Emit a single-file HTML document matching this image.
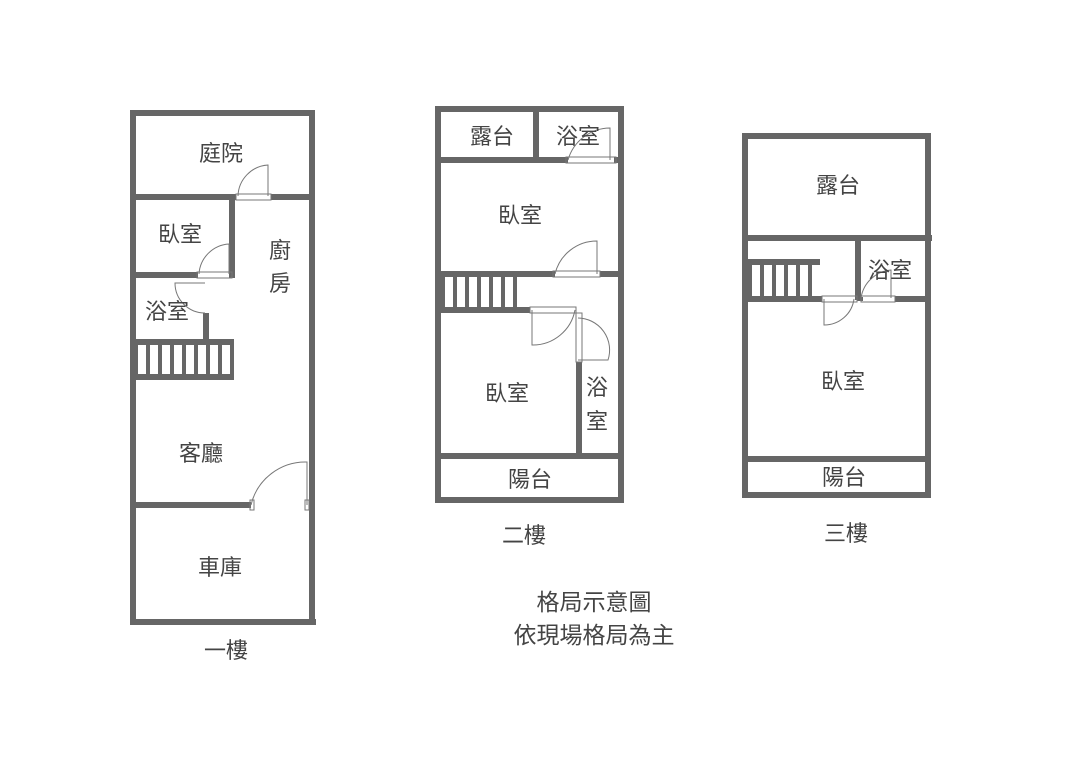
<!DOCTYPE html>
<html><head><meta charset="utf-8"><style>
html,body{margin:0;padding:0;background:#fff;width:1076px;height:776px;overflow:hidden}
text{font-family:"Liberation Sans","Noto Sans CJK TC",sans-serif;font-size:22px;fill:#444;text-anchor:middle}
text.b{font-size:23px}
</style></head><body>
<svg width="1076" height="776" viewBox="0 0 1076 776" xmlns="http://www.w3.org/2000/svg">
<g fill="#666">
<!-- Plan 1 -->
<rect x="130" y="110" width="185" height="6"/>
<rect x="130" y="110" width="6" height="515"/>
<rect x="309" y="110" width="6" height="515"/>
<rect x="130" y="619" width="186" height="6"/>
<rect x="130" y="194" width="106" height="6"/>
<rect x="271" y="194" width="44" height="6"/>
<rect x="229" y="194" width="6" height="84"/>
<rect x="130" y="272" width="68" height="6"/>
<rect x="203" y="313" width="6" height="28"/>
<rect x="130" y="339" width="104" height="6"/>
<rect x="130" y="374" width="104" height="6"/>
<rect x="134" y="345" width="4" height="30"/><rect x="146" y="345" width="4" height="30"/><rect x="158" y="345" width="4" height="30"/><rect x="170" y="345" width="4" height="30"/><rect x="182" y="345" width="4" height="30"/><rect x="194" y="345" width="4" height="30"/><rect x="206" y="345" width="4" height="30"/><rect x="218" y="345" width="4" height="30"/><rect x="230" y="345" width="4" height="30"/>
<rect x="130" y="502" width="121" height="6"/>
<!-- Plan 2 -->
<rect x="435" y="106" width="189" height="6"/>
<rect x="435" y="106" width="6" height="397"/>
<rect x="618" y="106" width="6" height="397"/>
<rect x="435" y="497" width="189" height="6"/>
<rect x="533" y="106" width="6" height="55"/>
<rect x="435" y="157" width="133" height="6"/>
<rect x="614" y="157" width="6" height="6"/>
<rect x="435" y="271" width="120" height="6"/>
<rect x="600" y="271" width="20" height="6"/>
<rect x="435" y="307" width="95" height="6"/>
<rect x="576" y="362" width="6" height="95"/>
<rect x="435" y="453" width="189" height="6"/>
<rect x="441" y="277" width="4" height="32"/><rect x="453" y="277" width="4" height="32"/><rect x="465" y="277" width="4" height="32"/><rect x="477" y="277" width="4" height="32"/><rect x="489" y="277" width="4" height="32"/><rect x="501" y="277" width="4" height="32"/><rect x="513" y="277" width="4" height="32"/>
<!-- Plan 3 -->
<rect x="742" y="133" width="189" height="6"/>
<rect x="742" y="133" width="6" height="365"/>
<rect x="925" y="133" width="6" height="365"/>
<rect x="742" y="492" width="189" height="6"/>
<rect x="742" y="235" width="190" height="6"/>
<rect x="855" y="241" width="6" height="59"/>
<rect x="742" y="259" width="78" height="6"/>
<rect x="742" y="296" width="80" height="6"/>
<rect x="857" y="297" width="6" height="4"/>
<rect x="895" y="296" width="36" height="6"/>
<rect x="748" y="265" width="4" height="32"/><rect x="760" y="265" width="4" height="32"/><rect x="772" y="265" width="4" height="32"/><rect x="784" y="265" width="4" height="32"/><rect x="796" y="265" width="4" height="32"/><rect x="808" y="265" width="4" height="32"/>
<rect x="742" y="456" width="189" height="6"/>
</g>
<g fill="none" stroke="#777" stroke-width="1">
<path d="M238 196 A32 32 0 0 1 268 165 L268 196"/><rect x="236" y="194" width="35" height="6"/>
<path d="M199 274 A32 32 0 0 1 229 244 L229 274"/><rect x="197" y="272" width="35" height="6"/>
<path d="M205 313 A30 30 0 0 1 175 283 L205 283"/>
<path d="M251 505 A56 56 0 0 1 307 462 L307 505"/><rect x="250" y="500" width="4" height="10"/><rect x="305" y="500" width="4" height="10"/>
<path d="M568 160 A44 44 0 0 1 610 128 L610 160"/><rect x="566" y="157" width="50" height="6"/>
<path d="M555 274 A43 43 0 0 1 597 241 L597 274"/><rect x="553" y="271" width="47" height="6"/>
<path d="M532 310 L532 345 A43 43 0 0 0 575 310"/><rect x="530" y="307" width="46" height="6"/>
<path d="M578 318 A32 32 0 0 1 608 360 L578 360"/><rect x="576" y="313" width="6" height="49"/>
<path d="M824 299 L824 325 A30 30 0 0 0 854 299"/><rect x="822" y="296" width="35" height="6"/>
<path d="M861 298 A33 33 0 0 1 891 270 L891 298"/><rect x="861" y="296" width="34" height="6"/>
</g>
<text x="221" y="161">庭院</text>
<text x="180" y="242">臥室</text>
<text x="280" y="258">廚</text>
<text x="280" y="291">房</text>
<text x="167" y="319">浴室</text>
<text x="201" y="461">客廳</text>
<text x="220" y="575">車庫</text>
<text x="226" y="658">一樓</text>
<text x="492" y="144">露台</text>
<text x="578" y="144">浴室</text>
<text x="520" y="223">臥室</text>
<text x="507" y="401">臥室</text>
<text x="597" y="395">浴</text>
<text x="597" y="429">室</text>
<text x="530" y="487">陽台</text>
<text x="524" y="543">二樓</text>
<text x="838" y="193">露台</text>
<text x="890" y="278">浴室</text>
<text x="843" y="389">臥室</text>
<text x="844" y="485">陽台</text>
<text x="846" y="541">三樓</text>
<text class="b" x="594" y="610">格局示意圖</text>
<text class="b" x="594" y="643">依現場格局為主</text>
</svg>
</body></html>
